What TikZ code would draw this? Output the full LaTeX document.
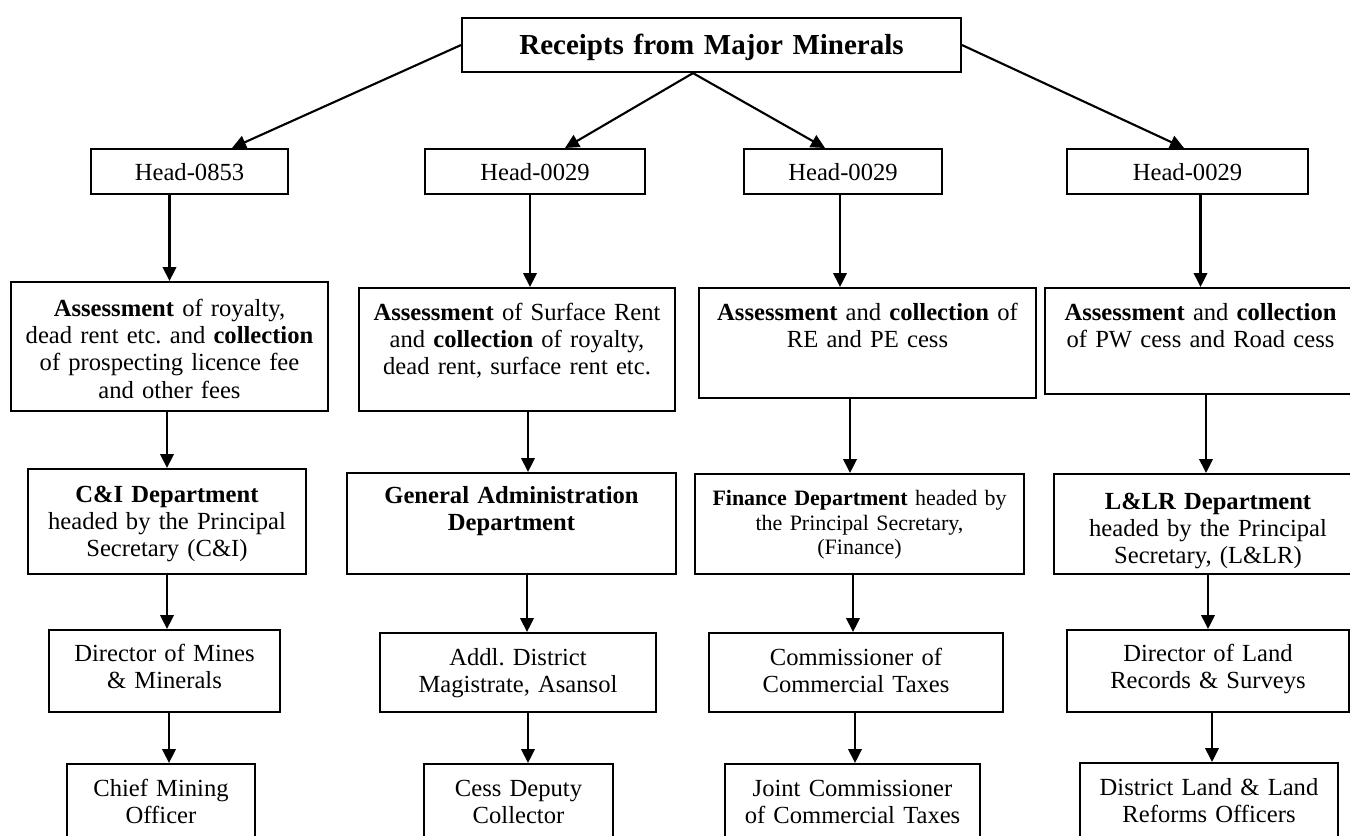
\documentclass[tikz,border=0pt]{standalone}
\usepackage{fontspec}
\setmainfont{Liberation Serif}
\frenchspacing
\usetikzlibrary{positioning,arrows.meta,calc}

\begin{document}
\begin{tikzpicture}[
  box/.style={
    rectangle, draw=black, line width=1.2pt, anchor=north,
    align=center, inner xsep=0pt, inner ysep=0pt,
    font=\fontsize{14}{15.6}\selectfont
  },
  topbox/.style={box, font=\fontsize{16.5}{19}\selectfont\bfseries},
  head/.style={box, text height=0.62cm, text depth=0.28cm},
  unit/.style={box, text height=0.64cm, text depth=0.94cm},
  arr/.style={-{Triangle[length=2.8mm,width=2.7mm]}, line width=1.2pt}
]
\useasboundingbox (0,0) rectangle (27,-16.7);

% --- Top box ---
\node[topbox, text width=9.98cm, text height=0.72cm, text depth=0.36cm] (top) at (14.23,-0.34)
  {Receipts from Major Minerals};

% --- Heads of account ---
\node[head, text width=3.94cm] (hd1) at (3.79,-2.96) {Head-0853};
\node[head, text width=4.40cm] (hd2) at (10.70,-2.96) {Head-0029};
\node[head, text width=3.96cm] (hd3) at (16.86,-2.96) {Head-0029};
\node[head, text width=4.82cm] (hd4) at (23.75,-2.96) {Head-0029};

% --- Assessment and collection ---
\node[box, text width=6.34cm, text height=0.68cm, text depth=1.90cm] (asm1) at (3.39,-5.62)
  {\textbf{Assessment} of royalty,\\ dead rent etc. and \textbf{collection}\\ of prospecting licence fee\\ and other fees};
\node[box, text width=6.32cm, text height=0.64cm, text depth=1.82cm] (asm2) at (10.34,-5.74)
  {\textbf{Assessment} of Surface Rent\\ and \textbf{collection} of royalty,\\ dead rent, surface rent etc.};
\node[box, text width=6.74cm, text height=0.64cm, text depth=1.56cm] (asm3) at (17.35,-5.74)
  {\textbf{Assessment} and \textbf{collection} of\\ RE and PE cess};
\node[box, text width=6.22cm, text height=0.64cm, text depth=1.48cm] (asm4) at (24.01,-5.74)
  {\textbf{Assessment} and \textbf{collection}\\ of PW cess and Road cess};

% --- Departments ---
\node[box, text width=5.56cm, text height=0.66cm, text depth=1.44cm] (dept1) at (3.34,-9.36)
  {\textbf{C\&I Department}\\ headed by the Principal\\ Secretary (C\&I)};
\node[box, text width=6.58cm, text height=0.60cm, text depth=1.42cm] (dept2) at (10.23,-9.44)
  {\textbf{General Administration}\\ \textbf{Department}};
\node[box, text width=6.58cm, text height=0.62cm, text depth=1.38cm,
      font=\fontsize{12.5}{14.2}\selectfont] (dept3) at (17.19,-9.46)
  {\textbf{Finance Department} headed by\\ the Principal Secretary,\\ (Finance)};
\node[box, text width=6.16cm, text height=0.70cm, text depth=1.30cm] (dept4) at (24.16,-9.46)
  {\textbf{L\&LR Department}\\ headed by the Principal\\ Secretary, (L\&LR)};

% --- Directors ---
\node[box, text width=4.62cm, text height=0.62cm, text depth=1.02cm] (dir1) at (3.29,-12.58)
  {Director of Mines\\ \& Minerals};
\node[unit, text width=5.52cm] (dir2) at (10.36,-12.64) {Addl. District\\ Magistrate, Asansol};
\node[unit, text width=5.88cm] (dir3) at (17.12,-12.64) {Commissioner of\\ Commercial Taxes};
\node[box, text width=5.64cm, text height=0.62cm, text depth=1.02cm] (dir4) at (24.16,-12.58)
  {Director of Land\\ Records \& Surveys};

% --- Field officers ---
\node[unit, text width=3.76cm] (off1) at (3.22,-15.26) {Chief Mining\\ Officer};
\node[unit, text width=3.78cm] (off2) at (10.37,-15.26) {Cess Deputy\\ Collector};
\node[unit, text width=5.10cm] (off3) at (17.05,-15.26) {Joint Commissioner\\ of Commercial Taxes};
\node[unit, text width=5.16cm] (off4) at (24.18,-15.24) {District Land \& Land\\ Reforms Officers};

% --- Arrows from the top box ---
\draw[arr] (top.west) -- ([xshift=0.85cm]hd1.north);
\draw[arr] ([xshift=-0.37cm]top.south) -- ([xshift=0.60cm]hd2.north);
\draw[arr] ([xshift=-0.37cm]top.south) -- ([xshift=-0.36cm]hd3.north);
\draw[arr] (top.east) -- ([xshift=-0.07cm]hd4.north);

% --- Vertical arrows ---
\foreach \up/\dn/\dx in {hd1/asm1/0, asm1/dept1/0, dept1/dir1/0.05, dir1/off1/0.16,
                         hd2/asm2/0.26, asm2/dept2/0.33, dept2/dir2/0.18, dir2/off2/0.19,
                         hd3/asm3/-0.55, asm3/dept3/-0.19, dept3/dir3/-0.06, dir3/off3/0.05,
                         hd4/asm4/0, asm4/dept4/-0.04, dept4/dir4/0, dir4/off4/0.06}
  \draw[arr] ($(\up.south -| \dn.north)+(\dx,0)$) -- ($(\dn.north)+(\dx,0)$);

\end{tikzpicture}
\end{document}
